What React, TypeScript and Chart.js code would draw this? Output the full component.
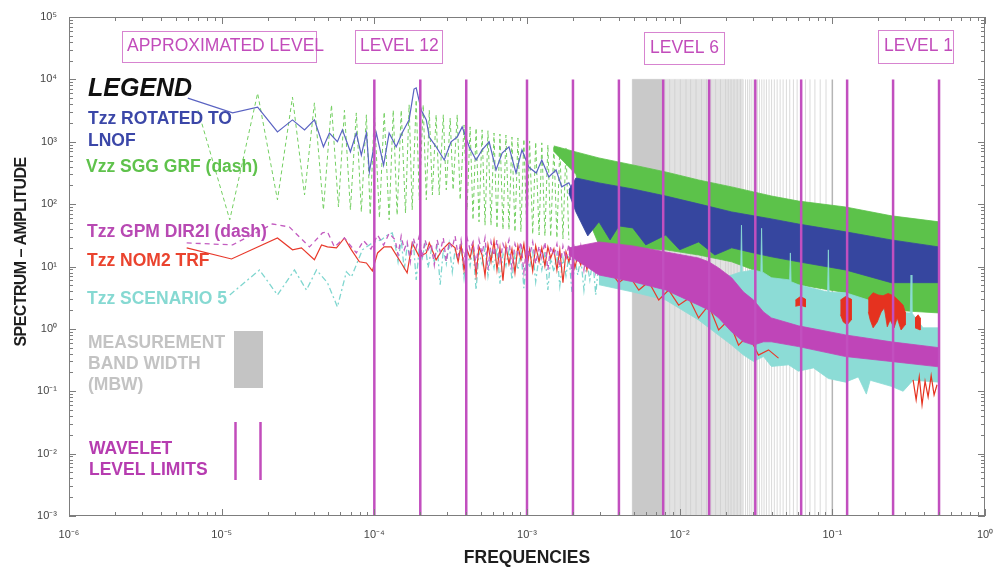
import React, { useEffect, useRef } from "react";
import { Chart, registerables } from "chart.js";

Chart.register(...registerables);

// ---------------- DATA (frequencies in Hz, amplitudes) ----------------
const X_RANGE = [1e-6, 1];
const Y_RANGE = [1e-3, 1e5];

// wavelet level limits
const LEVEL_FREQS = [1e-4, 2e-4, 4e-4, 1e-3, 2e-3, 4e-3, 7.8e-3, 1.56e-2, 3.13e-2, 6.25e-2, 0.125, 0.25, 0.5];
const LEVEL_SPAN = [1e-3, 1e4];

// measurement band width shading
const MBW_DARK = [4.9e-3, 7.6e-3];
const MBW_MID = [7.6e-3, 2.6e-2];
const MBW_MID_STRIPES = [0.025, 0.0238, 0.0227, 0.0217, 0.0208, 0.02, 0.0185, 0.0172, 0.016, 0.015, 0.0139, 0.0128, 0.0118, 0.011, 0.0101, 0.0093, 0.0086, 0.008];
const MBW_STRIPES = [0.0909, 0.0833, 0.0769, 0.0714, 0.0667, 0.0625, 0.0588, 0.0556, 0.0526, 0.05, 0.0476, 0.0455, 0.0435, 0.0417, 0.04, 0.0385, 0.037, 0.0357, 0.0345, 0.0333, 0.0323, 0.0313, 0.0303, 0.0294, 0.0286, 0.0278, 0.027];
const MBW_EDGE = [0.1];

// shared frequency grid of the noisy mid-band (1.4e-4 .. 3e-3 Hz)
const GRID_F = [1.37e-4, 1.43e-4, 1.50e-4, 1.57e-4, 1.64e-4, 1.72e-4, 1.80e-4, 1.88e-4, 1.97e-4, 2.06e-4, 2.15e-4, 2.25e-4, 2.36e-4, 2.47e-4, 2.58e-4, 2.70e-4, 2.83e-4, 2.96e-4, 3.09e-4, 3.24e-4, 3.38e-4, 3.54e-4, 3.70e-4, 3.87e-4, 4.05e-4, 4.24e-4, 4.43e-4, 4.64e-4, 4.85e-4, 5.08e-4, 5.31e-4, 5.55e-4, 5.81e-4, 6.08e-4, 6.36e-4, 6.65e-4, 6.96e-4, 7.28e-4, 7.62e-4, 7.97e-4, 8.34e-4, 8.72e-4, 9.12e-4, 9.54e-4, 9.98e-4, 1.04e-3, 1.09e-3, 1.14e-3, 1.20e-3, 1.25e-3, 1.31e-3, 1.37e-3, 1.43e-3, 1.50e-3, 1.57e-3, 1.64e-3, 1.72e-3, 1.80e-3, 1.88e-3, 1.97e-3, 2.06e-3, 2.15e-3, 2.25e-3, 2.36e-3, 2.47e-3, 2.58e-3, 2.70e-3, 2.82e-3, 2.95e-3];

// Tzz ROTATED TO LNOF (solid, low frequencies)
const BLUE_F = [6.0e-6, 1.18e-5, 1.72e-5, 2.32e-5, 2.91e-5, 3.49e-5, 4.05e-5, 4.64e-5, 5.08e-5, 5.73e-5, 6.18e-5, 6.97e-5, 7.62e-5, 8.22e-5, 8.87e-5, 9.28e-5, 1.03e-4, 1.15e-4, 1.25e-4, 1.39e-4, 1.52e-4, 1.69e-4, 1.82e-4, 1.88e-4, 2.03e-4, 2.19e-4, 2.29e-4, 2.54e-4, 2.87e-4, 3.18e-4, 3.49e-4, 3.76e-4, 4.18e-4, 4.64e-4, 5.08e-4, 5.65e-4, 6.27e-4, 6.87e-4, 7.62e-4, 8.47e-4, 9.27e-4, 1.03e-3, 1.15e-3, 1.25e-3, 1.39e-3, 1.55e-3, 1.69e-3, 1.88e-3, 2.09e-3];
const BLUE_V = [5.0e3, 2.9e3, 3.6e3, 1.44e3, 2.24e3, 1.55e3, 2.24e3, 830, 1.38e3, 1.0e3, 1.55e3, 690, 1.38e3, 610, 1.38e3, 330, 1.38e3, 420, 1.38e3, 830, 1.38e3, 2.24e3, 7.0e3, 7.3e3, 3.2e3, 2.24e3, 1.19e3, 830, 510, 1.0e3, 1.19e3, 1.73e3, 830, 510, 740, 1.0e3, 353, 660, 830, 316, 740, 390, 316, 510, 273, 353, 189, 220, 130];
// Tzz ROTATED TO LNOF (dense high-frequency band)
const BLUE_BAND_F = [1.88e-3, 2.09e-3, 2.96e-3, 4.93e-3, 8.1e-3, 1.33e-2, 2.19e-2, 3.05e-2, 3.99e-2, 6.0e-2, 0.122, 0.243, 0.5];
const BLUE_BAND_HI = [169, 263, 219, 175, 135, 101, 75, 65, 58, 48, 36, 26.7, 20.6];
const BLUE_BAND_LO_F = [1.88e-3, 2.09e-3, 2.5e-3, 2.96e-3, 3.5e-3, 4.0e-3, 4.93e-3, 6.0e-3, 8.1e-3, 1.0e-2, 1.33e-2, 1.7e-2, 2.19e-2, 3.05e-2, 3.99e-2, 6.0e-2, 0.122, 0.243, 0.5];
const BLUE_BAND_LO = [150, 75, 30.9, 52, 26.7, 44.7, 41.5, 22.2, 32, 18.5, 24.8, 15.3, 19.9, 16.5, 14.3, 11.9, 8.8, 5.5, 5.5];

// Vzz SGG GRF (dash)
const GREEN_LOW_F = [7.0e-6, 1.13e-5, 1.72e-5, 2.32e-5, 2.91e-5, 3.49e-5, 4.05e-5, 4.64e-5, 5.24e-5, 5.82e-5, 6.37e-5, 6.97e-5, 7.62e-5, 8.22e-5, 8.87e-5, 9.4e-5, 1.0e-4, 1.08e-4, 1.16e-4, 1.25e-4, 1.33e-4, 1.41e-4, 1.50e-4, 1.6e-4, 1.69e-4, 1.77e-4, 1.88e-4, 1.97e-4, 2.09e-4, 2.19e-4, 2.29e-4, 2.4e-4, 2.54e-4, 2.66e-4, 2.83e-4, 2.96e-4, 3.14e-4, 3.28e-4, 3.49e-4, 3.65e-4, 3.87e-4, 4.05e-4];
const GREEN_LOW_V = [3.2e3, 56, 6.0e3, 117, 5.2e3, 140, 4.2e3, 81, 3.9e3, 90, 3.2e3, 81, 2.9e3, 75, 2.7e3, 67, 3.0e3, 60, 3.0e3, 56, 3.2e3, 67, 3.2e3, 72, 3.9e3, 81, 4.7e3, 117, 3.9e3, 117, 3.2e3, 140, 2.7e3, 140, 2.7e3, 169, 2.4e3, 169, 2.7e3, 117, 1.86e3, 81];
const GREEN_HATCH_V = [1.73e3, 56, 1.66e3, 52, 1.55e3, 46, 1.5e3, 46, 1.38e3, 41, 1.33e3, 39, 1.28e3, 39, 1.19e3, 36, 1.15e3, 36, 1.1e3, 34.5, 1.03e3, 33, 990, 32, 960, 31, 890, 30, 860, 28.7, 830, 27.7, 795, 26.7];
const GREEN_BAND_F = [1.50e-3, 2.09e-3, 2.96e-3, 4.93e-3, 8.1e-3, 1.33e-2, 2.19e-2, 3.05e-2, 3.99e-2, 6.0e-2, 0.122, 0.243, 0.5];
const GREEN_BAND_HI = [857, 687, 550, 425, 328, 244, 189, 157, 135, 112, 90, 65, 52];
const GREEN_BAND_LO_F = [1.50e-3, 2.09e-3, 2.5e-3, 2.96e-3, 4.93e-3, 8.1e-3, 1.33e-2, 2.19e-2, 3.05e-2, 3.99e-2, 6.0e-2, 0.122, 0.243, 0.5];
const GREEN_BAND_LO = [700, 300, 60, 22.2, 19.9, 18.5, 15.3, 11.9, 8.8, 6.6, 5.1, 3.8, 2.0, 1.8];

// Tzz GPM DIR2I (dash)
const MAG_LOW_F = [5.9e-6, 1.18e-5, 2.15e-5, 2.78e-5, 3.76e-5, 4.57e-5, 4.93e-5, 5.48e-5, 6.37e-5, 7.62e-5, 8.5e-5, 9.5e-5, 1.05e-4, 1.15e-4, 1.25e-4];
const MAG_LOW_V = [23.9, 22.2, 48, 43, 20.6, 34.5, 36, 20.6, 28.7, 16.5, 26, 19, 32, 22, 34];
const MAG_NOISE_V = [26.7, 15.3, 30.9, 18.5, 24.8, 11.9, 28.7, 19.9, 30.9, 13.7, 26.7, 18.5, 23, 10.6, 26.7, 17.1, 28.7, 11.9, 24.8, 19.9, 30.9, 14.8, 26.7, 11.9, 28.7, 18.5, 24.8, 10.2, 26.7, 15.9, 28.7, 8.8, 24.8, 14.8, 26.7, 11.9, 23, 17.1, 26.7, 9.5, 23, 15.9, 24.8, 8.2, 23, 14.8, 24.8, 11, 21.4, 13.7, 24.8, 8.8, 21.4, 14.8, 23, 9.5, 21.4, 12.8, 23, 7.6, 19.9, 11.9, 21.4, 8.8, 19.9, 11, 18.5, 8.2, 18.5];
const MAG_BAND_F = [1.88e-3, 2.96e-3, 4.93e-3, 8.1e-3, 1.33e-2, 1.55e-2, 1.80e-2, 2.19e-2, 2.62e-2, 3.05e-2, 3.54e-2, 3.99e-2, 6.0e-2, 0.122, 0.243, 0.5];
const MAG_BAND_HI = [19.9, 24.8, 21.4, 17.1, 13.7, 11.9, 9.5, 6.6, 3.9, 2.9, 1.87, 1.5, 1.12, 0.80, 0.62, 0.50];
const MAG_BAND_LO = [15.3, 7.3, 5.7, 4.2, 2.4, 2.0, 1.5, 0.895, 0.62, 0.55, 0.62, 0.62, 0.52, 0.36, 0.30, 0.246];

// Tzz NOM2 TRF (solid)
const RED_LOW_F = [5.9e-6, 1.16e-5, 2.32e-5, 2.91e-5, 3.33e-5, 4.05e-5, 4.51e-5, 4.93e-5, 5.65e-5, 6.37e-5, 7.08e-5, 7.98e-5, 8.87e-5, 9.71e-5, 1.05e-4, 1.16e-4, 1.29e-4, 1.50e-4, 1.64e-4, 1.77e-4, 1.97e-4, 2.19e-4, 2.29e-4, 2.54e-4, 2.78e-4, 3.09e-4];
const RED_LOW_V = [19.9, 13.2, 28.7, 18.5, 19.9, 12.8, 22.2, 20.6, 19.9, 28.7, 18.5, 11.9, 11.4, 8.5, 16.5, 20.6, 20.6, 11.4, 7.9, 23.9, 14.3, 16.5, 23.9, 12.8, 18.5, 23.9];
const RED_NOISE_V = [19.9, 11.9, 22.2, 8.8, 18.5, 13.7, 23, 7.3, 20.6, 15.3, 7.1, 22.2, 11.9, 25.7, 8.8, 19.9, 5.9, 21.4, 11, 19.1, 7.9, 21.4, 12.8, 23, 9.5, 18.5, 8.5, 21.4, 11.9, 19.9, 10.2, 20.6, 13.7, 19.1, 8.8, 18.5, 5.5, 17.1, 11.9, 18.5, 9.5, 15.3, 10.6, 17.1, 8.8, 15.3, 11.9, 14.8, 9.5];
const RED_EXT_F = [3.44e-3, 3.99e-3, 4.64e-3, 5.40e-3, 6.27e-3, 7.29e-3, 8.47e-3, 9.85e-3, 1.15e-2, 1.33e-2, 1.55e-2, 1.80e-2, 2.09e-2, 2.43e-2, 2.83e-2, 3.28e-2, 3.82e-2, 4.44e-2];
const RED_EXT_V = [8.8, 5.5, 7.3, 4.2, 5.7, 2.9, 4.2, 2.4, 3.1, 1.5, 2.4, 0.96, 1.39, 0.55, 0.8, 0.38, 0.46, 0.34];
const RED_BLOB1_F = [5.73e-2, 6.18e-2, 6.67e-2, 6.67e-2, 6.18e-2, 5.73e-2];
const RED_BLOB1_V = [2.9, 3.3, 3.0, 2.25, 2.4, 2.3];
const RED_BLOB2_F = [0.113, 0.122, 0.133, 0.133, 0.125, 0.118, 0.113];
const RED_BLOB2_V = [2.9, 3.3, 3.0, 1.39, 1.16, 1.29, 1.68];
const RED_BLOB3_F = [0.172, 0.185, 0.2, 0.215, 0.232, 0.251, 0.27, 0.291, 0.3, 0.3, 0.282, 0.266, 0.254, 0.239, 0.229, 0.219, 0.209, 0.197, 0.185, 0.177, 0.172];
const RED_BLOB3_V = [3.1, 3.8, 3.5, 3.4, 3.7, 3.4, 2.9, 2.4, 1.87, 1.16, 0.96, 1.5, 1.04, 1.39, 1.08, 2.17, 1.87, 1.29, 1.04, 1.39, 1.87];
const RED_BLOB4_F = [0.348, 0.365, 0.376, 0.376, 0.348];
const RED_BLOB4_V = [1.5, 1.68, 1.5, 0.96, 1.04];
const RED_TAIL_F = [0.338, 0.354, 0.371, 0.387, 0.405, 0.424, 0.444, 0.464, 0.485];
const RED_TAIL_V = [0.152, 0.073, 0.17, 0.061, 0.145, 0.081, 0.178, 0.087, 0.127];

// Tzz SCENARIO 5 (dash-dot)
const CYAN_LOW_F = [1.13e-5, 1.77e-5, 2.32e-5, 3.0e-5, 3.59e-5, 4.18e-5, 4.93e-5, 5.73e-5, 6.56e-5, 7.08e-5, 8.35e-5, 9.71e-5, 1.11e-4, 1.22e-4, 1.31e-4];
const CYAN_LOW_V = [3.5, 8.8, 3.5, 8.8, 4.2, 8.8, 5.5, 2.25, 8.2, 6.8, 18.5, 23.9, 26.7, 32, 34.5];
const CYAN_NOISE_V = [22.2, 11.9, 26.7, 8.8, 21.4, 14.8, 24.8, 6.1, 19.9, 13.7, 23, 9.5, 18.5, 11.9, 21.4, 5.1, 18.5, 11, 23, 8.2, 18.5, 11.9, 21.4, 6.6, 18.5, 10.2, 19.9, 4.2, 17.1, 11, 19.9, 7.1, 17.1, 9.5, 19.9, 5.3, 15.9, 10.2, 18.5, 6.1, 15.9, 8.8, 18.5, 4.5, 14.8, 9.5, 17.1, 5.7, 14.8, 8.8, 17.1, 4.2, 13.7, 8.2, 15.9, 4.9, 13.7, 7.1, 14.8, 3.9, 12.8, 7.3, 13.7, 4.2, 11.9, 6.1, 12.8, 3.5, 11.9];
const CYAN_HI_F = [2.96e-3, 4.93e-3, 8.1e-3, 1.33e-2, 1.80e-2, 2.19e-2, 2.51e-2, 2.54e-2, 2.57e-2, 3.05e-2, 3.40e-2, 3.44e-2, 3.48e-2, 3.99e-2, 5.25e-2, 5.31e-2, 5.37e-2, 6.0e-2, 9.31e-2, 9.42e-2, 9.53e-2, 0.122, 0.172, 0.243, 0.324, 0.328, 0.332, 0.393, 0.5];
const CYAN_HI_V = [11.9, 9.5, 7.3, 6.1, 6.6, 7.3, 8.2, 46, 8.2, 8.8, 8.2, 41, 8.2, 6.6, 6.1, 16.5, 5.7, 5.1, 3.9, 18.5, 3.9, 3.8, 2.9, 1.87, 1.8, 7.3, 1.8, 1.04, 1.04];
const CYAN_LO_F = [2.96e-3, 4.93e-3, 8.1e-3, 1.33e-2, 2.19e-2, 2.62e-2, 3.05e-2, 3.54e-2, 3.99e-2, 5.16e-2, 6.0e-2, 7.52e-2, 9.42e-2, 0.122, 0.148, 0.167, 0.177, 0.243, 0.291, 0.338, 0.5];
const CYAN_LO_V = [5.1, 3.9, 2.9, 1.39, 0.55, 0.38, 0.30, 0.36, 0.25, 0.265, 0.21, 0.237, 0.16, 0.14, 0.17, 0.09, 0.15, 0.12, 0.1, 0.15, 0.14];

// ---------------- helpers ----------------
const FONT = '"Liberation Sans", Arial, Helvetica, sans-serif';
const SUP: Record<string, string> = { "-": "\u207B", "0": "\u2070", "1": "\u00B9", "2": "\u00B2", "3": "\u00B3", "4": "\u2074", "5": "\u2075", "6": "\u2076", "7": "\u2077", "8": "\u2078", "9": "\u2079" };
const isPow10 = (v: number) => Math.abs(Math.log10(v) - Math.round(Math.log10(v))) < 1e-6;
const powLabel = (v: number) => (isPow10(v) ? "10" + String(Math.round(Math.log10(v))).split("").map((c) => SUP[c]).join("") : "");

const pts = (f: number[], v: number[]) => f.map((x, i) => ({ x, y: v[i] }));
const poly = (fHi: number[], hi: number[], fLo: number[], lo: number[]) => [...pts(fHi, hi), ...pts(fLo, lo).reverse()];
const rect = (f: number[], span: number[]) => [
  { x: f[0], y: span[0] }, { x: f[0], y: span[1] }, { x: f[1], y: span[1] }, { x: f[1], y: span[0] },
];
const vlines = (fs: number[], span: number[]) => {
  const out: any[] = [];
  fs.forEach((f) => { out.push({ x: f, y: span[0] }, { x: f, y: span[1] }, { x: f, y: null }); });
  return out;
};
const logTicks = (lo: number, hi: number) => {
  const t: any[] = [];
  for (let e = lo; e < hi; e++) for (let k = 1; k < 10; k++) t.push({ value: k * Math.pow(10, e), major: k === 1 });
  t.push({ value: Math.pow(10, hi), major: true });
  return t;
};

const lineDs = (data: any[], color: string, width: number, dash: number[] = []) => ({
  data, borderColor: color, borderWidth: width, borderDash: dash, pointRadius: 0, fill: false, tension: 0, spanGaps: false,
});
const polyDs = (data: any[], color: string) => ({
  data, borderColor: color, borderWidth: 0.8, backgroundColor: color, pointRadius: 0, fill: "shape", tension: 0,
});

// ---------------- decorations plugin ----------------
const decor = {
  id: "decor",
  afterDraw(chart: any) {
    const { ctx, chartArea: a, scales } = chart;
    const xs = scales.x, ys = scales.y;
    ctx.save();
    const seg = (x1: number, y1: number, x2: number, y2: number) => { ctx.beginPath(); ctx.moveTo(x1, y1); ctx.lineTo(x2, y2); ctx.stroke(); };
    ctx.strokeStyle = "#7d7d7d";
    ctx.lineWidth = 1;
    ctx.strokeRect(a.left + 0.5, a.top + 0.5, a.right - a.left - 1, a.bottom - a.top - 1);
    xs.ticks.forEach((t: any) => {
      const p = Math.round(xs.getPixelForValue(t.value)) + 0.5;
      const len = isPow10(t.value) ? 7 : 4;
      seg(p, a.bottom, p, a.bottom - len);
      seg(p, a.top, p, a.top + len);
    });
    ys.ticks.forEach((t: any) => {
      const p = Math.round(ys.getPixelForValue(t.value)) + 0.5;
      const len = isPow10(t.value) ? 7 : 4;
      seg(a.left, p, a.left + len, p);
      seg(a.right, p, a.right - len, p);
    });

    // y axis title
    ctx.save();
    ctx.translate(22, 252);
    ctx.rotate(-Math.PI / 2);
    ctx.fillStyle = "#1e1e1e";
    ctx.font = `bold 16px ${FONT}`;
    (ctx as any).letterSpacing = "-0.6px";
    ctx.textAlign = "center";
    ctx.textBaseline = "middle";
    ctx.fillText("SPECTRUM \u2013 AMPLITUDE", 0, 0);
    ctx.restore();

    // level boxes
    const mag = "#c24cbb";
    ctx.strokeStyle = "#d784d0";
    ctx.lineWidth = 1;
    ctx.fillStyle = mag;
    ctx.font = `17.5px ${FONT}`;
    ctx.textBaseline = "alphabetic";
    const box = (x: number, y: number, w: number, h: number, text: string, tx: number, ty: number) => {
      ctx.strokeRect(x + 0.5, y + 0.5, w, h);
      ctx.fillText(text, tx, ty);
    };
    box(122, 31, 194, 31, "APPROXIMATED LEVEL", 127, 51);
    box(355, 30, 87, 33, "LEVEL 12", 360, 51);
    box(644, 32, 80, 32, "LEVEL 6", 650, 53);
    box(878, 30, 75, 33, "LEVEL 1", 884, 51);

    // legend
    ctx.fillStyle = "#111";
    ctx.font = `italic bold 25px ${FONT}`;
    ctx.fillText("LEGEND", 88, 96);
    ctx.font = `bold 17.5px ${FONT}`;
    const txt = (s: string, x: number, y: number, c: string) => { ctx.fillStyle = c; ctx.fillText(s, x, y); };
    txt("Tzz ROTATED TO", 88, 124, "#3b47a8");
    txt("LNOF", 88, 146, "#3b47a8");
    txt("Vzz SGG GRF (dash)", 86, 172, "#5fc24c");
    txt("Tzz GPM DIR2I (dash)", 87, 237, "#b849b3");
    txt("Tzz NOM2 TRF", 87, 266, "#ea432e");
    txt("Tzz SCENARIO 5", 87, 304, "#86d9d2");
    txt("MEASUREMENT", 88, 348, "#c3c3c3");
    txt("BAND WIDTH", 88, 369, "#c3c3c3");
    txt("(MBW)", 88, 390, "#c3c3c3");
    txt("WAVELET", 89, 454, "#b63cb0");
    txt("LEVEL LIMITS", 89, 475, "#b63cb0");
    ctx.fillStyle = "#c4c4c4";
    ctx.fillRect(234, 331, 29, 57);
    ctx.strokeStyle = mag;
    ctx.lineWidth = 2.5;
    seg(235.5, 422, 235.5, 480);
    seg(260.5, 422, 260.5, 480);
    ctx.restore();
  },
};

// ---------------- datasets (bottom -> top) ----------------
function buildDatasets() {
  const layers: any[] = [
    polyDs(rect(MBW_MID, LEVEL_SPAN), "#e2e2e2"),
    lineDs(vlines(MBW_MID_STRIPES, LEVEL_SPAN), "#d2d2d2", 1),
    polyDs(rect(MBW_DARK, LEVEL_SPAN), "#c9c9c9"),
    lineDs(vlines(MBW_STRIPES, LEVEL_SPAN), "#dadada", 1),
    lineDs(vlines(MBW_EDGE, LEVEL_SPAN), "#b5b5b5", 1.5),

    lineDs([...pts(GREEN_LOW_F, GREEN_LOW_V), ...pts(GRID_F.slice(25, 59), GREEN_HATCH_V)], "#74cf62", 1, [4, 3]),
    polyDs(poly(GREEN_BAND_F, GREEN_BAND_HI, GREEN_BAND_LO_F, GREEN_BAND_LO), "#5cc24a"),

    lineDs(pts(BLUE_F, BLUE_V), "#5a63c2", 1.2),
    polyDs(poly(BLUE_BAND_F, BLUE_BAND_HI, BLUE_BAND_LO_F, BLUE_BAND_LO), "#36469f"),

    lineDs([...pts(CYAN_LOW_F, CYAN_LOW_V), ...pts(GRID_F, CYAN_NOISE_V)], "#7fd6cf", 1.3, [6, 3, 2, 3]),
    polyDs(poly(CYAN_HI_F, CYAN_HI_V, CYAN_LO_F, CYAN_LO_V), "#8cdcd6"),

    lineDs([...pts(RED_LOW_F, RED_LOW_V), ...pts(GRID_F.slice(20), RED_NOISE_V), ...pts(RED_EXT_F, RED_EXT_V)], "#e8392b", 1.2),

    lineDs([...pts(MAG_LOW_F, MAG_LOW_V), ...pts(GRID_F, MAG_NOISE_V)], "#c35cc0", 1.3, [5, 4]),
    polyDs(poly(MAG_BAND_F, MAG_BAND_HI, MAG_BAND_F, MAG_BAND_LO), "#bf45b8"),

    polyDs(pts(RED_BLOB1_F, RED_BLOB1_V), "#e5321f"),
    polyDs(pts(RED_BLOB2_F, RED_BLOB2_V), "#e5321f"),
    polyDs(pts(RED_BLOB3_F, RED_BLOB3_V), "#e5321f"),
    polyDs(pts(RED_BLOB4_F, RED_BLOB4_V), "#e5321f"),
    lineDs(pts(RED_TAIL_F, RED_TAIL_V), "#e5321f", 1.2),

    lineDs(vlines(LEVEL_FREQS, LEVEL_SPAN), "#c24fbf", 2.5),
  ];
  // Chart.js draws the first dataset on top: reverse
  return layers.reverse();
}

export default function App() {
  const ref = useRef<HTMLCanvasElement>(null);
  useEffect(() => {
    const chart = new Chart(ref.current as HTMLCanvasElement, {
      type: "line",
      data: { datasets: buildDatasets() },
      options: {
        responsive: false,
        animation: false,
        devicePixelRatio: 1,
        events: [],
        layout: { padding: { top: 17, right: 13, left: 0, bottom: 0 } },
        plugins: { legend: { display: false }, tooltip: { enabled: false }, title: { display: false } },
        scales: {
          x: {
            type: "logarithmic",
            min: X_RANGE[0],
            max: X_RANGE[1],
            grid: { display: false, drawTicks: false },
            border: { display: false },
            afterBuildTicks: (s: any) => { s.ticks = logTicks(-6, 0); },
            afterFit: (s: any) => { s.height = 55; s.paddingLeft = 0; s.paddingRight = 0; },
            ticks: { autoSkip: false, maxRotation: 0, padding: 12, color: "#444", font: { family: FONT, size: 11 }, callback: (v: any) => powLabel(Number(v)) },
            title: { display: true, text: "FREQUENCIES", color: "#1e1e1e", font: { family: FONT, size: 17.5, weight: "bold" }, padding: { top: 0, bottom: 2 } },
          },
          y: {
            type: "logarithmic",
            min: Y_RANGE[0],
            max: Y_RANGE[1],
            grid: { display: false, drawTicks: false },
            border: { display: false },
            afterBuildTicks: (s: any) => { s.ticks = logTicks(-3, 5); },
            afterFit: (s: any) => { s.width = 69; s.paddingTop = 0; s.paddingBottom = 0; },
            ticks: { autoSkip: false, padding: 12, color: "#444", font: { family: FONT, size: 11 }, callback: (v: any) => powLabel(Number(v)) },
          },
        },
      } as any,
      plugins: [decor],
    } as any);
    return () => chart.destroy();
  }, []);
  return (
    <div style={{ position: "absolute", left: 0, top: 0, width: 998, height: 571, background: "#fff" }}>
      <canvas ref={ref} width={998} height={571} style={{ display: "block", width: 998, height: 571 }} />
    </div>
  );
}
